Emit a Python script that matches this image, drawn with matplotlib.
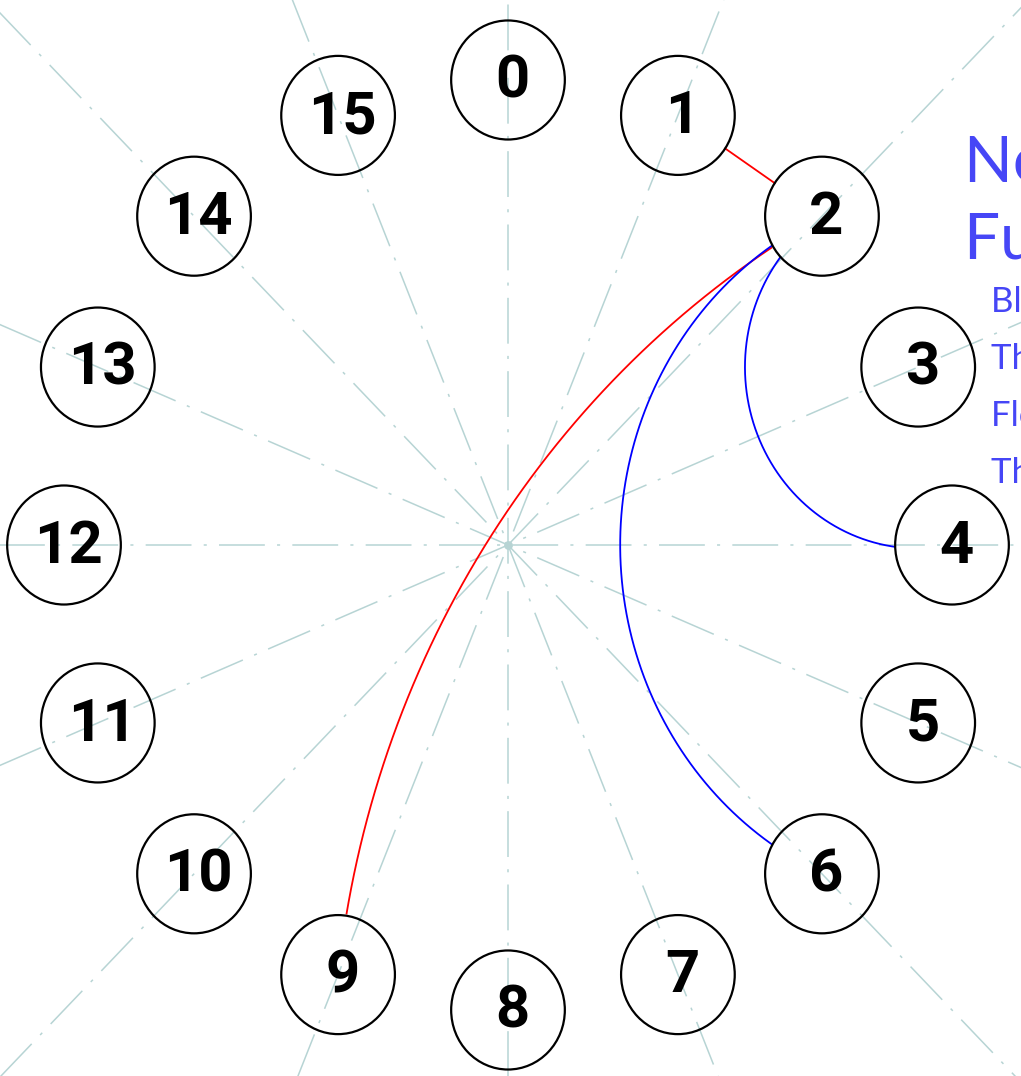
import numpy as np
import matplotlib
matplotlib.use("Agg")
from matplotlib import pyplot as plt
from matplotlib.patches import Circle

# ring of 16 numbered nodes
node_labels = [str(i) for i in range(16)]

# connections drawn between nodes
edge_sources = [1, 2, 2, 2]
edge_targets = [2, 9, 4, 6]
edge_colors = ["#ff0000", "#ff0000", "#0000ff", "#0000ff"]
# distance of the arc centre from the ring centre (None = straight line)
edge_arc_center = [None, 2.1, 1.0, 1.03]

# side panel text (runs off the right edge)
title_lines = ["Nodes: 16", "Full graph"]
info_lines = ["Blue: arcs", "Thin: links", "Flow: 2 -> 9", "Three edges"]

W, H = 1021, 1076
CX, CY = 508, 545          # ring centre in pixels
RX, RY = 444, 465          # ring radius in pixels (x, y)
NODE_R = 0.128             # node circle radius in ring units
GRID_COLOR = "#b7d4d4"
TEXT_BLUE = "#4646f6"

n = len(node_labels)
angles = np.deg2rad(np.arange(n) * 360.0 / n)
node_x = np.sin(angles)
node_y = np.cos(angles)


def edge_points(i, j, d, num=400):
    p = np.array([node_x[i], node_y[i]])
    q = np.array([node_x[j], node_y[j]])
    if d is None:
        t = np.linspace(0, 1, num)[:, None]
        pts = p + t * (q - p)
    else:
        diff = (angles[j] - angles[i]) % (2 * np.pi)
        if diff > np.pi:
            diff -= 2 * np.pi
        mid = angles[i] + diff / 2
        c = d * np.array([np.sin(mid), np.cos(mid)])
        r = np.linalg.norm(p - c)
        th1 = np.arctan2(*(p - c)[::-1])
        th2 = np.arctan2(*(q - c)[::-1])
        dth = (th2 - th1 + np.pi) % (2 * np.pi) - np.pi
        th = np.linspace(th1, th1 + dth, num)
        pts = c + r * np.column_stack([np.cos(th), np.sin(th)])
    keep = (np.linalg.norm(pts - p, axis=1) > NODE_R) & (np.linalg.norm(pts - q, axis=1) > NODE_R)
    return pts[keep]


fig = plt.figure(figsize=(W / 100, H / 100), dpi=100)
ax = fig.add_axes([0, 0, 1, 1])
ax.set_xlim(-CX / RX, (W - CX) / RX)
ax.set_ylim(-(H - CY) / RY, CY / RY)
ax.axis("off")

# dash-dot spokes through every node
for k in range(n // 2):
    a = angles[k]
    ax.plot([-3 * np.sin(a), 3 * np.sin(a)], [-3 * np.cos(a), 3 * np.cos(a)],
            color=GRID_COLOR, lw=1.1, linestyle=(0, (30, 8, 2, 8)), zorder=1)
ax.scatter([0], [0], s=40, color=GRID_COLOR, zorder=1, linewidths=0)

for s, t, col, d in zip(edge_sources, edge_targets, edge_colors, edge_arc_center):
    pts = edge_points(s, t, d)
    ax.plot(pts[:, 0], pts[:, 1], color=col, lw=1.3, zorder=2)

for x, y, lab in zip(node_x, node_y, node_labels):
    ax.add_patch(Circle((x, y), NODE_R, fill=False, ec="black", lw=1.6, zorder=3))
    ax.text(x + 0.01, y - 0.004, lab, ha="center", va="center", fontsize=43,
            fontweight="bold", family=["Roboto", "DejaVu Sans"], color="black", zorder=4)

for k, line in enumerate(title_lines):
    fig.text(964 / W, 1 - (182 + 76 * k) / H, line, ha="left", va="baseline",
             fontsize=46, color=TEXT_BLUE, family=["Lato", "DejaVu Sans"])
for k, line in enumerate(info_lines):
    fig.text(991 / W, 1 - (312 + 57 * k) / H, line, ha="left", va="baseline",
             fontsize=25, color=TEXT_BLUE, family=["Lato", "DejaVu Sans"])

plt.savefig("out.png", dpi=100)
plt.close()
